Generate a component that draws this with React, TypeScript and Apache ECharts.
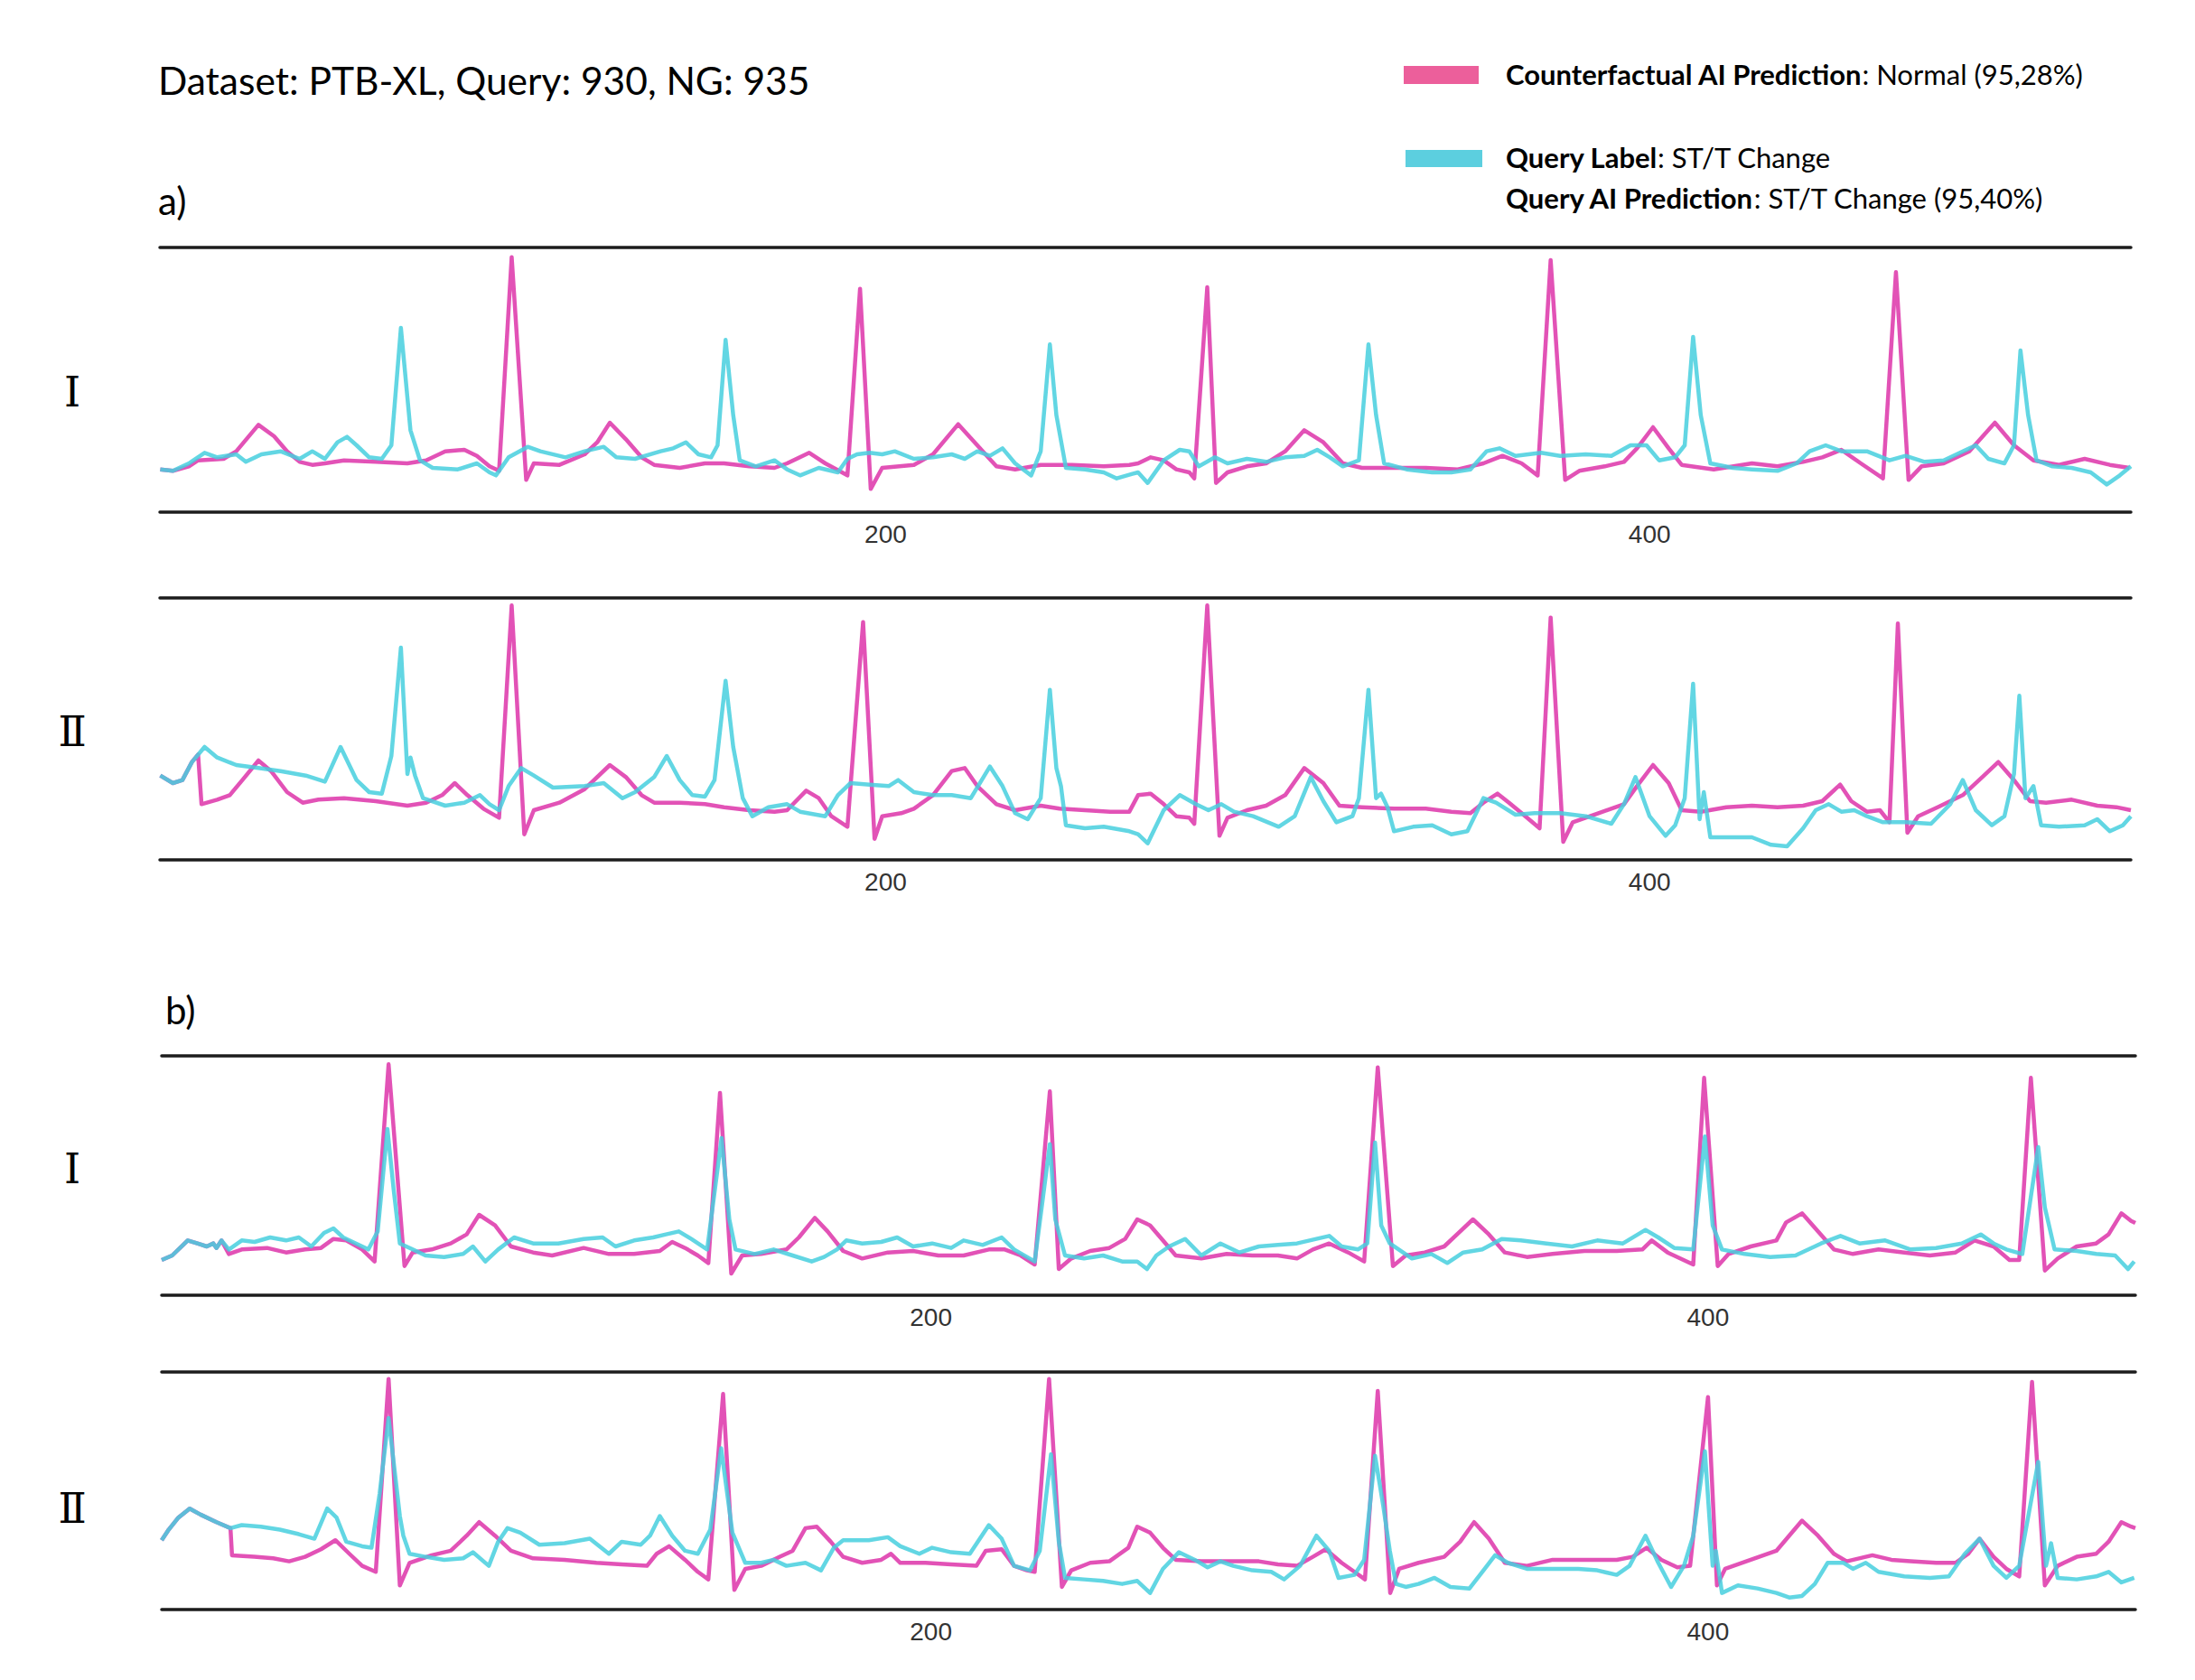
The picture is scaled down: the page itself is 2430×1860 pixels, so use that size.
import React, { useEffect, useRef } from "react";
import * as echarts from "echarts";

// ---------------- DATA (sample index, amplitude) ----------------
const X_TICKS = [200, 400];
const LEAD_LABELS = ["I", "Ⅱ", "I", "Ⅱ"];
const SECTION_LABELS = ["a)", "b)"];
const TITLE = "Dataset: PTB-XL, Query: 930, NG: 935";
const CF_NAME = "Counterfactual AI Prediction";
const CF_PRED = "Normal (95,28%)";
const Q_LABEL_NAME = "Query Label";
const Q_LABEL = "ST/T Change";
const Q_PRED_NAME = "Query AI Prediction";
const Q_PRED = "ST/T Change (95,40%)";

// a) lead I
const aI_cf = [[10.1,142],[13.4,137],[17.6,152],[20.0,172],[26.7,177],[30.0,202],[35.8,290],[39.9,252],[43.3,202],[46.6,167],[49.9,157],[53.2,162],[58.2,172],[66.5,167],[74.8,162],[79.7,172],[84.7,202],[89.7,207],[93.0,187],[96.3,152],[98.8,137],[102.1,847],[105.9,107],[107.9,162],[114.6,157],[121.2,192],[124.5,232],[127.8,297],[132.0,242],[136.1,182],[139.4,157],[146.1,147],[152.7,162],[157.7,162],[164.3,152],[170.9,147],[174.2,162],[180.0,197],[184.2,162],[190.0,122],[193.3,742],[196.1,77],[199.1,147],[207.4,157],[212.4,192],[219.0,292],[224.0,222],[229.0,152],[233.9,142],[240.6,157],[248.8,157],[257.1,152],[263.8,157],[266.1,162],[269.4,182],[272.8,172],[276.1,142],[279.5,132],[280.8,112],[284.2,747],[286.5,97],[289.5,132],[294.6,152],[299.6,162],[304.6,202],[309.6,272],[314.6,232],[319.7,162],[324.7,147],[333.1,147],[341.4,147],[349.8,142],[356.5,162],[361.5,187],[366.5,162],[370.7,122],[374.1,837],[377.9,107],[381.6,137],[388.3,152],[393.3,167],[396.7,212],[400.9,282],[405.0,212],[408.4,157],[416.8,142],[426.8,162],[433.5,152],[440.2,167],[445.2,182],[450.2,207],[455.3,162],[461.1,112],[464.5,797],[467.8,107],[471.2,152],[477.0,162],[483.7,202],[490.4,297],[495.4,222],[500.5,172],[507.2,157],[513.9,177],[520.5,157],[525.6,147]];
const aI_q = [[10.1,142],[13.4,137],[17.6,162],[21.7,197],[25.0,182],[30.0,192],[32.5,167],[36.6,192],[41.6,202],[46.6,177],[49.9,202],[53.2,177],[56.5,232],[59.0,250],[61.5,222],[64.8,182],[68.1,177],[70.6,222],[73.1,612],[75.6,272],[78.1,172],[81.4,147],[88.0,142],[93.0,162],[96.3,132],[98.0,122],[101.3,182],[106.3,217],[109.6,202],[116.2,182],[121.2,202],[126.2,217],[129.5,182],[134.4,177],[141.1,202],[144.4,212],[147.7,232],[151.0,192],[154.3,182],[156.0,222],[158.1,572],[160.1,322],[161.8,172],[166.0,152],[170.9,172],[174.2,142],[177.6,122],[182.5,147],[187.5,132],[190.0,177],[192.5,192],[195.8,197],[199.1,192],[202.4,202],[207.4,177],[212.4,182],[217.3,192],[220.7,177],[224.0,202],[227.3,187],[230.6,212],[233.9,162],[238.1,122],[240.6,202],[243.0,557],[244.7,322],[247.2,147],[252.2,142],[257.1,132],[260.5,112],[264.6,127],[266.1,132],[268.6,97],[272.8,172],[277.0,207],[279.5,202],[282.0,152],[286.2,182],[289.5,162],[294.6,177],[299.6,167],[304.6,182],[309.6,187],[313.0,207],[316.3,182],[319.7,152],[323.9,172],[326.4,557],[328.4,322],[330.5,162],[336.4,142],[343.1,132],[348.1,132],[353.1,142],[357.3,202],[360.7,212],[364.9,187],[371.6,197],[376.6,187],[383.3,192],[390.0,187],[395.0,222],[399.2,222],[402.5,172],[406.7,182],[409.2,222],[411.4,582],[413.4,322],[415.9,162],[421.8,147],[426.8,142],[433.5,137],[438.5,162],[441.9,202],[446.1,222],[450.2,202],[456.9,202],[462.8,172],[467.0,187],[472.0,167],[477.0,172],[482.0,202],[485.4,222],[488.7,177],[492.9,162],[495.4,222],[497.1,537],[499.1,322],[501.3,172],[505.5,152],[510.5,147],[515.5,132],[519.7,92],[523.1,122],[526.0,152]];

// a) lead II
const aII_cf = [[10.1,280],[13.4,255],[15.9,265],[18.4,325],[20.0,350],[20.9,185],[25.0,200],[28.3,215],[31.6,265],[35.8,330],[39.1,295],[43.3,225],[47.4,190],[51.5,200],[58.2,205],[66.5,195],[74.8,180],[79.7,190],[83.9,215],[87.2,255],[90.5,215],[94.7,170],[98.8,140],[102.1,845],[105.4,85],[107.9,165],[114.6,190],[121.2,235],[127.8,315],[132.0,275],[136.1,215],[139.4,190],[146.1,190],[152.7,185],[157.7,175],[164.3,165],[170.9,160],[174.2,165],[179.2,230],[182.5,205],[185.8,145],[190.0,110],[194.1,790],[197.1,70],[199.1,145],[204.1,155],[207.4,170],[212.4,215],[217.3,295],[220.7,305],[224.0,245],[229.0,185],[233.9,165],[240.6,180],[245.5,170],[252.2,165],[258.8,160],[263.8,160],[266.1,215],[269.4,220],[272.8,185],[276.1,145],[279.5,140],[280.8,120],[284.2,845],[287.4,80],[289.5,140],[294.6,165],[299.6,180],[304.6,215],[309.6,305],[314.6,255],[318.8,180],[324.7,175],[333.1,170],[341.4,170],[348.1,160],[353.1,155],[356.5,190],[360.2,220],[363.2,190],[366.5,155],[371.2,105],[374.1,805],[377.4,60],[379.9,125],[386.6,155],[393.3,185],[396.7,245],[400.9,315],[405.0,255],[408.4,165],[413.4,160],[420.1,175],[426.8,180],[433.5,175],[440.2,180],[445.2,195],[449.9,250],[452.8,195],[456.9,160],[460.3,165],[462.8,125],[465.0,785],[467.5,90],[470.3,145],[475.4,175],[482.0,215],[487.1,275],[491.3,325],[495.4,265],[499.6,195],[503.8,190],[510.5,200],[517.2,180],[522.2,175],[526.0,165]];
const aII_q = [[10.1,280],[13.4,255],[15.9,265],[18.4,325],[21.7,375],[25.0,340],[30.0,315],[35.8,305],[41.6,295],[48.2,280],[53.2,260],[57.3,375],[61.5,265],[64.8,225],[68.1,220],[70.6,345],[73.1,705],[74.8,285],[75.6,340],[76.8,280],[78.9,205],[84.7,180],[89.7,190],[93.8,215],[96.3,185],[98.8,165],[101.3,245],[104.6,305],[107.9,280],[112.9,240],[121.2,245],[126.2,255],[131.1,205],[134.4,225],[139.4,275],[142.7,345],[146.1,265],[149.4,215],[152.7,210],[155.2,265],[158.1,595],[160.1,375],[162.6,205],[165.1,145],[169.3,175],[174.2,185],[177.6,160],[184.2,145],[187.5,215],[190.8,255],[195.8,250],[200.8,245],[203.3,265],[207.4,225],[212.4,215],[217.3,215],[222.3,205],[227.3,310],[230.6,245],[233.9,155],[237.2,135],[240.6,205],[243.0,565],[244.7,305],[245.9,245],[247.2,115],[252.2,105],[257.1,110],[263.8,95],[266.1,85],[268.6,55],[272.8,165],[277.0,215],[281.2,185],[284.5,165],[287.9,185],[291.2,160],[296.2,145],[302.9,110],[307.1,145],[311.3,275],[314.6,195],[318.0,125],[322.2,145],[323.9,205],[326.4,565],[328.4,205],[329.7,220],[331.4,175],[333.1,95],[338.1,110],[343.1,115],[348.1,85],[352.3,95],[356.5,205],[359.8,190],[364.9,150],[369.9,155],[376.6,155],[383.3,145],[390.0,120],[393.3,185],[396.3,275],[400.0,145],[404.2,80],[406.7,115],[409.2,205],[411.4,585],[413.1,135],[414.2,225],[415.9,75],[420.1,75],[426.8,75],[431.8,50],[436.0,45],[440.2,105],[443.5,165],[446.9,185],[450.2,160],[453.6,165],[456.9,145],[461.1,125],[467.0,125],[473.7,120],[478.7,185],[482.0,265],[485.4,165],[489.6,115],[492.9,145],[495.4,285],[496.8,545],[498.4,205],[500.5,245],[502.5,115],[507.2,110],[513.9,115],[517.2,135],[520.5,95],[523.9,115],[526.0,145]];

// b) lead I
const bI_cf = [[2.0,117],[4.7,132],[8.7,182],[11.2,172],[13.6,162],[15.3,172],[16.1,157],[17.4,182],[19.3,137],[22.6,152],[29.1,157],[34.0,142],[38.9,152],[43.0,157],[46.2,187],[49.5,182],[53.6,152],[56.8,112],[60.4,767],[64.5,97],[66.6,142],[71.5,152],[76.4,172],[80.5,202],[83.7,267],[87.8,232],[91.9,162],[97.6,142],[102.5,132],[110.6,157],[117.1,137],[123.6,137],[130.2,147],[133.4,177],[136.7,157],[140.0,132],[142.7,107],[145.7,672],[148.6,72],[151.4,132],[156.3,137],[162.8,152],[166.0,192],[170.1,257],[173.4,212],[177.4,147],[182.3,122],[188.9,142],[195.4,147],[201.9,132],[208.4,132],[214.9,152],[219.0,152],[223.1,132],[226.7,102],[230.6,677],[232.9,87],[236.1,122],[241.0,147],[245.9,157],[250.0,187],[253.1,252],[256.4,232],[259.7,182],[263.0,132],[269.6,122],[276.1,137],[282.7,132],[289.3,132],[294.2,122],[298.3,152],[302.5,172],[307.4,142],[311.5,112],[315.0,757],[318.9,97],[322.2,132],[327.1,142],[332.1,162],[336.2,212],[339.5,252],[343.6,202],[347.7,142],[353.4,127],[360.0,137],[368.2,147],[376.5,147],[383.1,152],[385.5,182],[389.6,142],[396.2,102],[399.0,722],[402.5,97],[405.3,137],[411.0,162],[417.6,182],[420.1,242],[424.2,272],[428.3,212],[432.4,152],[437.3,137],[443.9,152],[450.5,142],[457.1,132],[463.7,142],[468.6,182],[473.5,162],[477.6,117],[480.1,117],[483.1,722],[486.7,82],[490.0,122],[494.9,162],[499.9,172],[503.1,202],[506.4,272],[508.9,247],[510.0,240]];
const bI_q = [[2.0,117],[4.7,132],[8.7,182],[11.2,172],[13.6,162],[15.3,172],[16.1,157],[17.4,182],[19.3,152],[22.6,182],[25.9,177],[29.9,192],[34.0,182],[37.3,192],[40.5,162],[43.8,207],[46.2,222],[48.7,192],[52.0,172],[55.2,152],[57.6,212],[60.1,552],[61.7,352],[63.3,172],[66.6,152],[69.9,132],[74.7,127],[79.6,137],[82.1,162],[85.3,112],[88.6,152],[92.7,192],[97.6,172],[104.1,172],[110.6,187],[115.5,192],[118.8,162],[123.6,182],[128.5,192],[131.8,202],[135.1,212],[138.3,187],[142.4,152],[146.1,522],[148.1,252],[149.7,152],[154.6,137],[159.5,152],[164.4,132],[169.3,112],[172.5,127],[175.8,152],[178.2,182],[182.3,172],[187.2,177],[191.3,192],[195.4,162],[200.3,172],[205.2,157],[208.4,182],[213.3,167],[218.2,192],[221.4,152],[226.7,112],[230.6,502],[232.0,252],[234.5,132],[239.4,122],[244.3,132],[249.2,112],[253.1,112],[255.6,87],[258.0,132],[261.3,162],[265.4,187],[269.6,132],[274.5,172],[279.4,142],[284.4,162],[289.3,167],[294.2,172],[299.2,187],[302.5,197],[305.7,162],[309.9,152],[312.3,172],[314.3,507],[315.9,232],[318.1,172],[323.8,122],[328.8,137],[332.9,107],[337.0,142],[341.9,152],[346.9,187],[351.8,182],[358.4,172],[365.0,162],[371.5,182],[378.1,172],[383.9,217],[387.2,192],[391.3,157],[396.2,152],[399.2,527],[401.2,232],[403.6,152],[409.4,137],[416.0,127],[422.5,132],[429.1,172],[434.1,197],[439.0,172],[445.6,182],[452.1,152],[458.7,157],[465.3,172],[470.2,202],[473.5,172],[476.8,152],[480.9,137],[485.0,492],[486.7,292],[489.2,152],[494.9,147],[499.9,137],[504.8,132],[508.1,87],[509.7,112]];

// b) lead II
const bII_cf = [[2.0,230],[3.8,265],[6.3,305],[9.2,335],[12.0,315],[16.1,290],[19.7,270],[20.1,180],[25.8,175],[30.7,170],[34.8,160],[38.9,175],[43.0,200],[46.7,230],[50.3,185],[53.6,145],[57.1,125],[60.4,765],[63.3,80],[65.8,155],[71.5,180],[76.4,195],[80.5,245],[83.7,290],[87.8,245],[91.9,195],[97.6,170],[105.7,165],[113.9,155],[120.4,150],[126.9,145],[129.4,185],[132.6,210],[136.7,165],[140.0,125],[142.7,100],[146.5,715],[149.4,65],[152.2,135],[156.3,145],[161.1,175],[164.4,195],[167.7,270],[170.6,275],[174.2,225],[177.4,175],[182.3,155],[187.2,165],[189.7,185],[192.1,155],[198.6,155],[205.2,150],[211.7,145],[214.1,195],[218.2,200],[221.4,145],[224.7,130],[226.7,125],[230.4,765],[233.7,75],[236.1,130],[241.0,155],[245.9,160],[250.8,205],[253.1,275],[256.4,255],[259.7,205],[263.0,165],[269.6,160],[276.1,160],[284.4,160],[289.3,150],[294.2,145],[298.3,175],[301.6,200],[305.7,155],[309.0,125],[311.7,100],[315.0,725],[318.2,55],[320.5,135],[325.5,155],[332.1,175],[336.2,225],[339.8,290],[343.6,235],[347.7,155],[353.4,145],[360.0,165],[368.2,165],[376.5,165],[380.6,175],[384.2,205],[388.0,165],[392.1,140],[395.4,145],[400.0,705],[402.3,80],[404.4,135],[411.0,165],[417.6,195],[420.9,245],[424.2,295],[428.3,245],[432.4,185],[435.7,160],[442.3,180],[447.2,165],[452.1,160],[458.7,155],[463.7,155],[467.0,185],[469.9,235],[473.5,175],[476.8,135],[480.1,110],[483.4,755],[486.7,80],[490.0,145],[494.9,175],[499.9,185],[503.1,225],[506.4,290],[508.9,275],[510.0,270]];
const bII_q = [[2.0,230],[3.8,265],[6.3,305],[9.2,335],[12.0,315],[16.1,290],[19.7,270],[22.6,280],[27.5,275],[32.4,265],[37.3,250],[41.3,235],[44.6,335],[47.0,305],[49.5,225],[53.6,210],[56.0,205],[58.1,385],[60.4,635],[63.3,310],[64.2,245],[65.8,185],[69.9,175],[74.7,165],[79.6,170],[82.1,190],[86.2,145],[88.6,225],[91.0,270],[94.3,255],[99.2,215],[105.7,220],[112.2,235],[117.1,185],[120.4,225],[125.3,215],[127.7,245],[130.2,310],[133.4,245],[136.7,195],[140.0,185],[143.2,265],[146.0,535],[148.9,255],[152.2,155],[156.3,155],[159.5,165],[162.8,145],[167.7,155],[171.7,130],[175.0,205],[177.4,230],[184.0,230],[188.9,240],[192.1,210],[197.0,185],[200.3,205],[205.2,190],[210.0,185],[214.9,280],[218.2,235],[221.4,145],[225.5,130],[228.0,195],[230.9,515],[232.9,225],[234.5,105],[239.4,100],[244.3,95],[249.2,85],[253.1,95],[256.4,55],[259.7,135],[263.8,190],[267.9,165],[271.2,140],[274.5,160],[277.8,145],[282.7,130],[287.6,125],[290.9,100],[295.0,145],[299.2,245],[302.5,195],[304.9,105],[309.0,115],[311.5,165],[314.3,510],[316.4,345],[318.1,195],[319.7,85],[322.2,75],[325.5,85],[329.6,105],[333.7,75],[338.6,70],[341.9,125],[345.2,180],[348.5,155],[353.4,135],[360.0,135],[366.6,135],[371.5,130],[376.5,115],[379.8,145],[383.9,245],[387.2,155],[390.5,75],[393.8,145],[396.2,245],[399.2,525],[401.2,145],[402.0,195],[403.6,55],[407.7,80],[412.7,70],[417.6,55],[420.9,40],[424.2,45],[427.5,85],[430.8,155],[434.9,155],[437.3,135],[440.6,155],[443.9,125],[450.5,110],[457.1,105],[462.0,110],[466.1,185],[469.9,235],[473.5,145],[476.8,105],[480.1,145],[485.0,490],[487.0,145],[488.3,220],[490.0,105],[494.9,100],[499.9,110],[503.1,125],[506.4,90],[509.7,105]];

// ---------------- LAYOUT ----------------
const CF_COLOR = "#E043B0";
const Q_COLOR = "#46CFDE";

const PANELS = [
  { left: 177, top: 274, width: 2182, height: 293, xMin: 10, xMax: 526, yMax: 879, cf: aI_cf, q: aI_q, labelY: 434 },
  { left: 177, top: 662, width: 2182, height: 290, xMin: 10, xMax: 526, yMax: 870, cf: aII_cf, q: aII_q, labelY: 810 },
  { left: 179, top: 1169, width: 2185, height: 265, xMin: 2, xMax: 510, yMax: 795, cf: bI_cf, q: bI_q, labelY: 1294 },
  { left: 179, top: 1519, width: 2185, height: 263, xMin: 2, xMax: 510, yMax: 788, cf: bII_cf, q: bII_q, labelY: 1670 },
];

export default function App() {
  const ref = useRef<HTMLDivElement>(null);
  useEffect(() => {
    if (!ref.current) return;
    const chart = echarts.init(ref.current, null, { renderer: "svg", width: 2430, height: 1860 });
    const grid: any[] = [];
    const xAxis: any[] = [];
    const yAxis: any[] = [];
    const series: any[] = [];
    const frameLine = { show: true, onZero: false, lineStyle: { color: "#1c1c1c", width: 3.5 } };
    PANELS.forEach((p, i) => {
      grid.push({ left: p.left, top: p.top, width: p.width, height: p.height, containLabel: false });
      xAxis.push({
        type: "value", gridIndex: i, position: "bottom", min: p.xMin, max: p.xMax,
        axisLine: frameLine, axisTick: { show: false }, splitLine: { show: false },
        axisLabel: { customValues: X_TICKS, color: "#333", fontSize: 28, fontFamily: "Liberation Sans", margin: 10 },
      });
      xAxis.push({
        type: "value", gridIndex: i, position: "top", min: p.xMin, max: p.xMax,
        axisLine: frameLine, axisTick: { show: false }, splitLine: { show: false }, axisLabel: { show: false },
      });
      yAxis.push({ type: "value", gridIndex: i, min: 0, max: p.yMax, show: false, splitLine: { show: false } });
      series.push({
        type: "line", xAxisIndex: 2 * i, yAxisIndex: i, data: p.cf, showSymbol: false, z: 2,
        lineStyle: { color: CF_COLOR, width: 4.5, opacity: 0.92, join: "round" },
      });
      series.push({
        type: "line", xAxisIndex: 2 * i, yAxisIndex: i, data: p.q, showSymbol: false, z: 3,
        lineStyle: { color: Q_COLOR, width: 4.5, opacity: 0.85, join: "round" },
      });
    });

    const sans = "Lato, 'Open Sans', sans-serif";
    const rich = { b: { font: `bold 31px ${sans}`, fill: "#000" }, r: { font: `31px ${sans}`, fill: "#000" } };
    const graphic: any[] = [
      { type: "text", x: 175, y: 88, style: { text: TITLE, font: `42.5px ${sans}`, fill: "#000", verticalAlign: "middle" } },
      { type: "text", x: 175, y: 222, style: { text: SECTION_LABELS[0], font: `42px ${sans}`, fill: "#000", verticalAlign: "middle" } },
      { type: "text", x: 183, y: 1118, style: { text: SECTION_LABELS[1], font: `42px ${sans}`, fill: "#000", verticalAlign: "middle" } },
      { type: "rect", shape: { x: 1554, y: 73, width: 83, height: 20 }, style: { fill: "#EC5F9B" } },
      { type: "rect", shape: { x: 1556, y: 166, width: 85, height: 19 }, style: { fill: "#5CCFDF" } },
      { type: "text", x: 1667, y: 82, style: { text: `{b|${CF_NAME}}{r|: ${CF_PRED}}`, verticalAlign: "middle", rich } },
      { type: "text", x: 1667, y: 174, style: { text: `{b|${Q_LABEL_NAME}}{r|: ${Q_LABEL}}`, verticalAlign: "middle", rich } },
      { type: "text", x: 1667, y: 219, style: { text: `{b|${Q_PRED_NAME}}{r|: ${Q_PRED}}`, verticalAlign: "middle", rich } },
    ];
    PANELS.forEach((p, i) => {
      graphic.push({
        type: "text", x: 80, y: p.labelY,
        style: { text: LEAD_LABELS[i], font: "46px 'DejaVu Serif', 'Liberation Serif', serif", fill: "#000", align: "center", verticalAlign: "middle" },
      });
    });

    chart.setOption({
      animation: false,
      backgroundColor: "#ffffff",
      grid, xAxis, yAxis, series, graphic,
    });
    return () => chart.dispose();
  }, []);
  return <div ref={ref} style={{ position: "fixed", left: 0, top: 0, width: 2430, height: 1860, background: "#fff" }} />;
}
